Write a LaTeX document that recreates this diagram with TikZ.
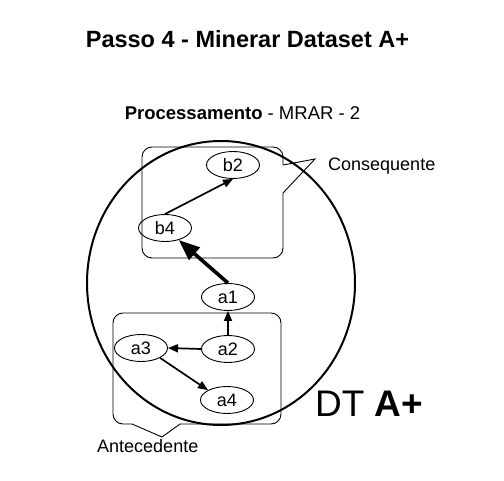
\documentclass[tikz,border=0pt]{standalone}
\usepackage{fontspec}
\setmainfont{Liberation Sans}
\usetikzlibrary{shapes.geometric,arrows.meta}
\tikzset{
  elnode/.style={ellipse,draw,line width=0.9pt,minimum width=53pt,minimum height=27pt,inner sep=0pt,font=\fontsize{18}{20}\selectfont},
  arr/.style={line width=1.7pt,-{Triangle[length=10pt,width=8pt]}},
  bigarr/.style={line width=3.6pt,-{Triangle[length=21pt,width=16pt]}},
  boxline/.style={line width=0.9pt},
  lbl/.style={inner sep=0pt,font=\fontsize{18}{20}\selectfont}
}
\begin{document}
\begin{tikzpicture}[x=1pt,y=-1pt]
\useasboundingbox (0,0) rectangle (504,481);
% big circle
\draw[line width=2pt] (221,283) ellipse [x radius=134, y radius=142];
% consequent box with callout pointer
\draw[boxline,rounded corners=10pt] (283,193) -- (283,258) -- (142,258) -- (142,147) -- (283,147) -- (283,165);
\draw[boxline,line join=miter] (283,165) -- (315,159) -- (283,193);
% antecedent box with callout pointer
\draw[boxline,rounded corners=10pt] (180,424) -- (281,424) -- (281,313) -- (113,313) -- (113,424) -- (132,424);
\draw[boxline] (132,424) -- (162,437) -- (180,424);
% nodes
\node[elnode] (b2) at (233,165) {b2};
\node[elnode] (b4) at (165,228) {b4};
\node[elnode] (a1) at (228,297) {a1};
\node[elnode] (a2) at (228,349) {a2};
\node[elnode] (a3) at (141,348) {a3};
\node[elnode] (a4) at (227,400) {a4};
% edges
\draw[arr] (b4.north) -- (b2.south);
\draw[bigarr] (a1.north) -- (b4);
\draw[arr] (a2.north) -- (a1.south);
\draw[arr] (a2.west) -- (a3.east);
\draw[arr] (a3.south east) -- (a4.north west);
% texts
\node[lbl,anchor=base] (title) at (247.5,48) {\fontsize{23.5}{26}\selectfont\bfseries Passo 4 - Minerar Dataset A+};
\node[lbl,anchor=base] (proc) at (242.5,120) {\fontsize{18.5}{20}\selectfont\textbf{Processamento} - MRAR - 2};
\node[lbl,anchor=base west] (cons) at (328,171) {Consequente};
\node[lbl,anchor=base west] (ante) at (97,453) {Antecedente};
\node[lbl,anchor=base west] (dt) at (315,417) {\fontsize{37}{40}\selectfont DT \textbf{A+}};
\end{tikzpicture}
\end{document}
